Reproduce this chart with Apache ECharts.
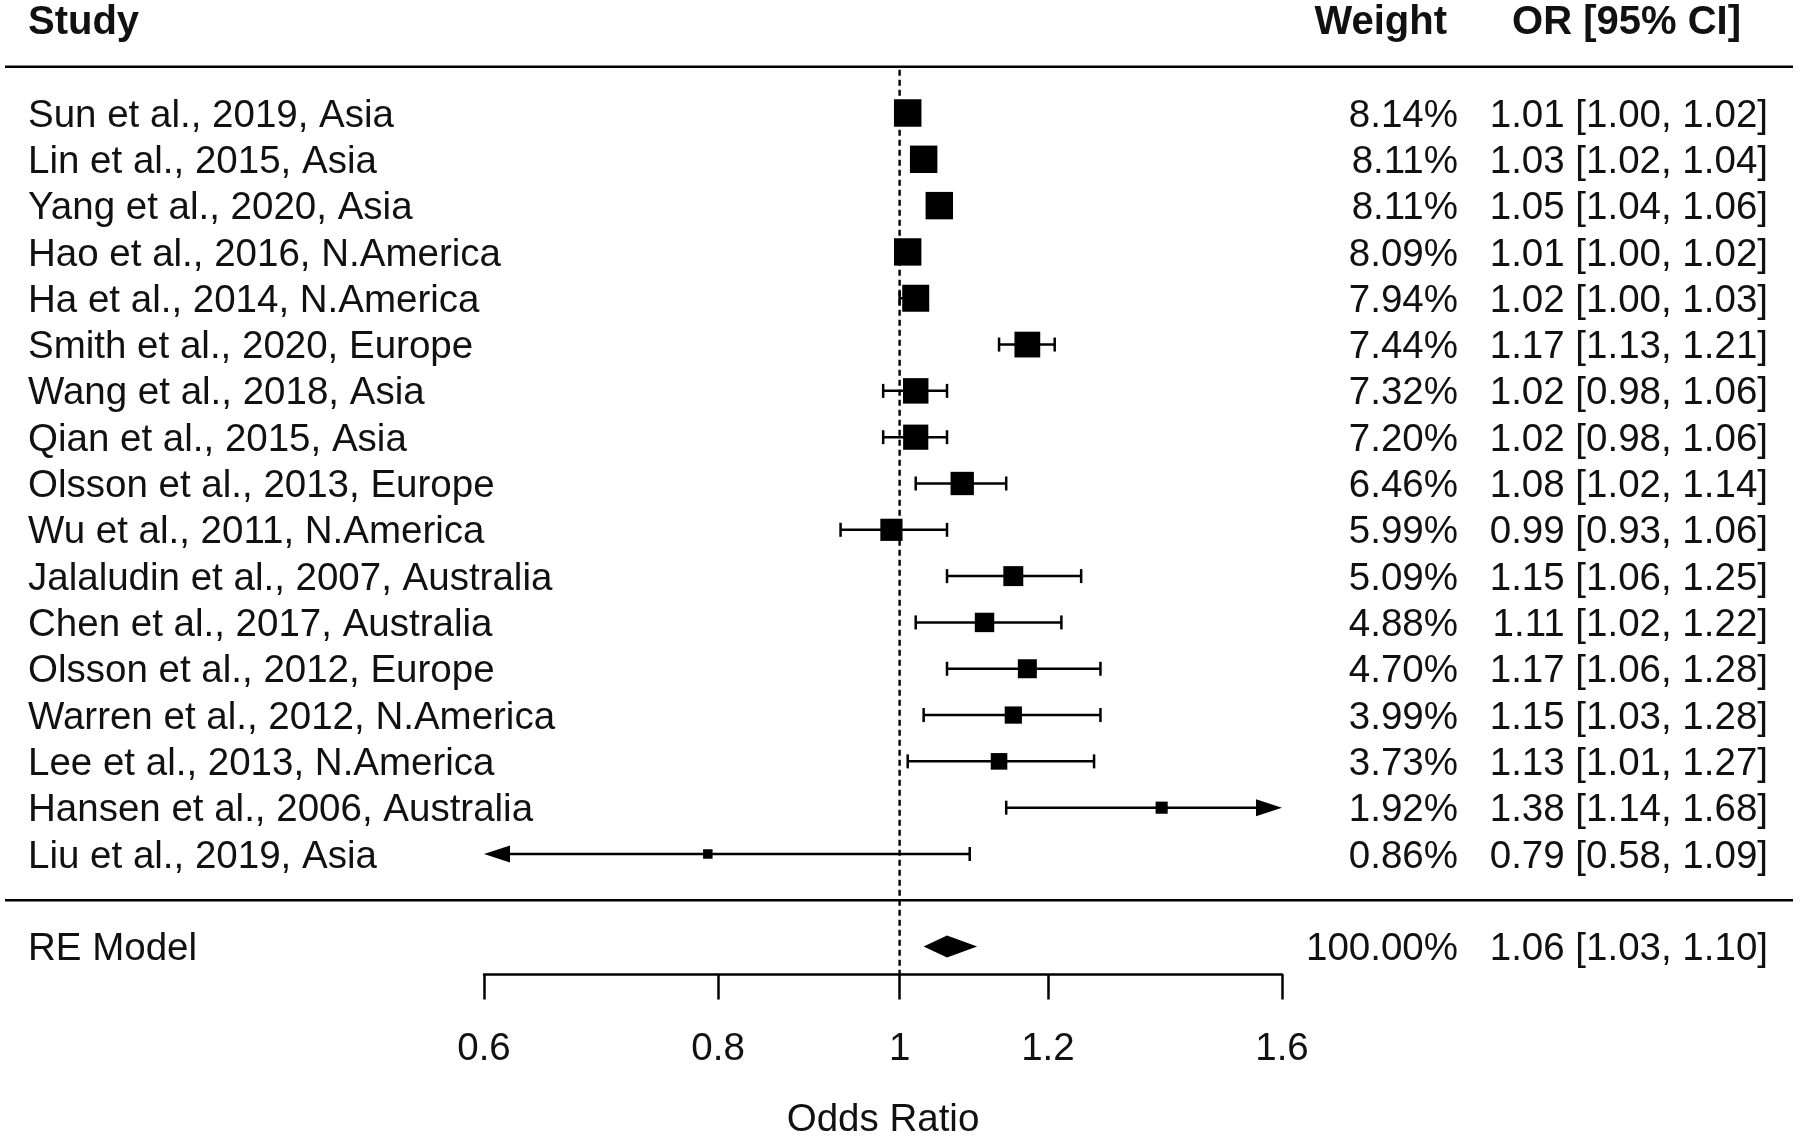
<!DOCTYPE html>
<html><head><meta charset="utf-8">
<script src="https://cdn.jsdelivr.net/npm/echarts@6/dist/echarts.min.js"></script>
<style>html,body{margin:0;padding:0;background:#fff}#c{width:1800px;height:1137px}</style>
</head><body><div id="c"></div><script>
// ---- data ----
const studies = [
  'Sun et al., 2019, Asia',
  'Lin et al., 2015, Asia',
  'Yang et al., 2020, Asia',
  'Hao et al., 2016, N.America',
  'Ha et al., 2014, N.America',
  'Smith et al., 2020, Europe',
  'Wang et al., 2018, Asia',
  'Qian et al., 2015, Asia',
  'Olsson et al., 2013, Europe',
  'Wu et al., 2011, N.America',
  'Jalaludin et al., 2007, Australia',
  'Chen et al., 2017, Australia',
  'Olsson et al., 2012, Europe',
  'Warren et al., 2012, N.America',
  'Lee et al., 2013, N.America',
  'Hansen et al., 2006, Australia',
  'Liu et al., 2019, Asia'
];
const weights   = [8.14, 8.11, 8.11, 8.09, 7.94, 7.44, 7.32, 7.20, 6.46, 5.99, 5.09, 4.88, 4.70, 3.99, 3.73, 1.92, 0.86];
const estimates = [1.01, 1.03, 1.05, 1.01, 1.02, 1.17, 1.02, 1.02, 1.08, 0.99, 1.15, 1.11, 1.17, 1.15, 1.13, 1.38, 0.79];
const lowerCI   = [1.00, 1.02, 1.04, 1.00, 1.00, 1.13, 0.98, 0.98, 1.02, 0.93, 1.06, 1.02, 1.06, 1.03, 1.01, 1.14, 0.58];
const upperCI   = [1.02, 1.04, 1.06, 1.02, 1.03, 1.21, 1.06, 1.06, 1.14, 1.06, 1.25, 1.22, 1.28, 1.28, 1.27, 1.68, 1.09];

const summaryLabel = 'RE Model';
const summaryWeight = 100.00;
const summaryEstimate = 1.06;
const summaryLower = 1.03;
const summaryUpper = 1.10;

const headers = ['Study', 'Weight', 'OR [95% CI]'];
const axisTitle = 'Odds Ratio';
const tickValues = [0.6, 0.8, 1, 1.2, 1.6];
const tickLabels = ['0.6', '0.8', '1', '1.2', '1.6'];
const xLimits = [0.6, 1.6];
const refValue = 1;

// ---- layout / style ----
const FONT = '"Liberation Sans", Arial, Helvetica, sans-serif';
const FS = 38.5;
const FS_HEAD = 40;
const TXT = '#111';
const TEXT_DY = 3;
const nStudies = studies.length;
const studyRow = i => nStudies - i;        // 17 ... 1
const summaryRow = -1;
const headerRow = 18;
const yMin = -1.6, yMax = 19.44;
const xMin = Math.log(xLimits[0]), xMax = Math.log(xLimits[1]);
const wMin = Math.min.apply(null, weights), wMax = Math.max.apply(null, weights);
const boxSize = w => 9.5 + 18 * (w - wMin) / (wMax - wMin);
const fmt2 = v => v.toFixed(2);
const ciText = (e, l, u) => fmt2(e) + ' [' + fmt2(l) + ', ' + fmt2(u) + ']';

const studyData = studies.map((s, i) => [Math.log(estimates[i]), studyRow(i), Math.log(lowerCI[i]), Math.log(upperCI[i]), weights[i]]);

const textRows = studies.map((s, i) => ({
  label: s, w: fmt2(weights[i]) + '%', ci: ciText(estimates[i], lowerCI[i], upperCI[i]), row: studyRow(i)
}));
textRows.push({label: summaryLabel, w: fmt2(summaryWeight) + '%', ci: ciText(summaryEstimate, summaryLower, summaryUpper), row: summaryRow});

const X_LABEL = 28, X_WEIGHT = 1458, X_CI = 1768, X_CI_HEAD = 1741, X_WEIGHT_HEAD = 1447;

function txt(x, y, text, align, bold) {
  return {type: 'text', style: {x: x, y: y + TEXT_DY, text: text, align: align, verticalAlign: 'middle',
    fontSize: bold ? FS_HEAD : FS, fontFamily: FONT, fontWeight: bold ? 'bold' : 'normal', fill: TXT}};
}

function renderStudy(params, api) {
  const est = api.value(0), row = api.value(1), lo = api.value(2), hi = api.value(3), w = api.value(4);
  const p = api.coord([est, row]);
  const y = p[1];
  const xL = api.coord([Math.max(lo, xMin), row])[0];
  const xR = api.coord([Math.min(hi, xMax), row])[0];
  const ls = {stroke: '#000', lineWidth: 2.5};
  const ch = [];
  const cap = 7, aL = 26, aH = 8.5;
  ch.push({type: 'line', shape: {x1: xL + (lo < xMin ? aL / 2 : 0), y1: y, x2: xR - (hi > xMax ? aL / 2 : 0), y2: y}, style: ls});
  if (lo >= xMin) ch.push({type: 'line', shape: {x1: xL, y1: y - cap, x2: xL, y2: y + cap}, style: ls});
  else ch.push({type: 'polygon', shape: {points: [[xL, y], [xL + aL, y - aH], [xL + aL, y + aH]]}, style: {fill: '#000'}});
  if (hi <= xMax) ch.push({type: 'line', shape: {x1: xR, y1: y - cap, x2: xR, y2: y + cap}, style: ls});
  else ch.push({type: 'polygon', shape: {points: [[xR, y], [xR - aL, y - aH], [xR - aL, y + aH]]}, style: {fill: '#000'}});
  const s = boxSize(w);
  ch.push({type: 'rect', shape: {x: p[0] - s / 2, y: y - s / 2, width: s, height: s}, style: {fill: '#000'}});
  return {type: 'group', children: ch};
}

function renderSummary(params, api) {
  const est = api.value(0), row = api.value(1), lo = api.value(2), hi = api.value(3);
  const c = api.coord([est, row]);
  const l = api.coord([lo, row]), r = api.coord([hi, row]);
  const h = 11;
  return {type: 'polygon', shape: {points: [[l[0], c[1]], [c[0], c[1] - h], [r[0], c[1]], [c[0], c[1] + h]]},
    style: {fill: '#000'}};
}

function renderText(params, api) {
  const t = textRows[params.dataIndex];
  const y = api.coord([0, api.value(1)])[1];
  return {type: 'group', children: [
    txt(X_LABEL, y, t.label, 'left', false),
    txt(X_WEIGHT, y, t.w, 'right', false),
    txt(X_CI, y, t.ci, 'right', false)
  ]};
}

function renderFrame(params, api) {
  const yHead = api.coord([0, headerRow + 1])[1];
  const yLine1 = api.coord([0, headerRow])[1];
  const yLine2 = api.coord([0, 0])[1];
  const ref = api.coord([Math.log(refValue), headerRow]);
  const refBottom = api.coord([Math.log(refValue), yMin]);
  const ls = {stroke: '#000', lineWidth: 2.5};
  return {type: 'group', children: [
    txt(X_LABEL, yHead, headers[0], 'left', true),
    txt(X_WEIGHT_HEAD, yHead, headers[1], 'right', true),
    txt(X_CI_HEAD, yHead, headers[2], 'right', true),
    {type: 'line', shape: {x1: 5, y1: yLine1, x2: 1793, y2: yLine1}, style: ls},
    {type: 'line', shape: {x1: 5, y1: yLine2, x2: 1793, y2: yLine2}, style: ls},
    {type: 'line', shape: {x1: ref[0], y1: ref[1] + 3, x2: refBottom[0], y2: refBottom[1]},
      style: {stroke: '#000', lineWidth: 2.4, lineDash: [6, 4]}}
  ]};
}

const chart = echarts.init(document.getElementById('c'), null, {renderer: 'canvas'});
chart.setOption({
  animation: false,
  backgroundColor: '#fff',
  grid: {left: 484, right: 518, top: 0, bottom: 162.6, containLabel: false, outerBoundsMode: 'none'},
  xAxis: {
    type: 'value', min: xMin, max: xMax,
    splitLine: {show: false},
    axisLine: {show: true, onZero: false, lineStyle: {color: '#000', width: 2.5}},
    axisTick: {show: true, customValues: tickValues.map(Math.log), length: 25, lineStyle: {color: '#000', width: 2.5}},
    axisLabel: {show: true, customValues: tickValues.map(Math.log), margin: 55, fontSize: FS, fontFamily: FONT, color: TXT,
      formatter: function (v) {
        for (let i = 0; i < tickValues.length; i++) if (Math.abs(Math.log(tickValues[i]) - v) < 1e-6) return tickLabels[i];
        return '';
      }},
    name: axisTitle, nameLocation: 'middle', nameGap: 126,
    nameTextStyle: {fontSize: FS, fontFamily: FONT, color: TXT}
  },
  yAxis: {type: 'value', min: yMin, max: yMax, show: false},
  series: [
    {type: 'custom', name: 'frame', clip: false, renderItem: renderFrame, data: [[0, headerRow]], silent: true},
    {type: 'custom', name: 'studies', clip: false, renderItem: renderStudy, data: studyData,
      encode: {x: 0, y: 1}},
    {type: 'custom', name: 'summary', clip: false, renderItem: renderSummary,
      data: [[Math.log(summaryEstimate), summaryRow, Math.log(summaryLower), Math.log(summaryUpper)]], encode: {x: 0, y: 1}},
    {type: 'custom', name: 'text', clip: false, renderItem: renderText,
      data: textRows.map(t => [0, t.row]), encode: {x: 0, y: 1}, silent: true}
  ]
});
</script></body></html>
